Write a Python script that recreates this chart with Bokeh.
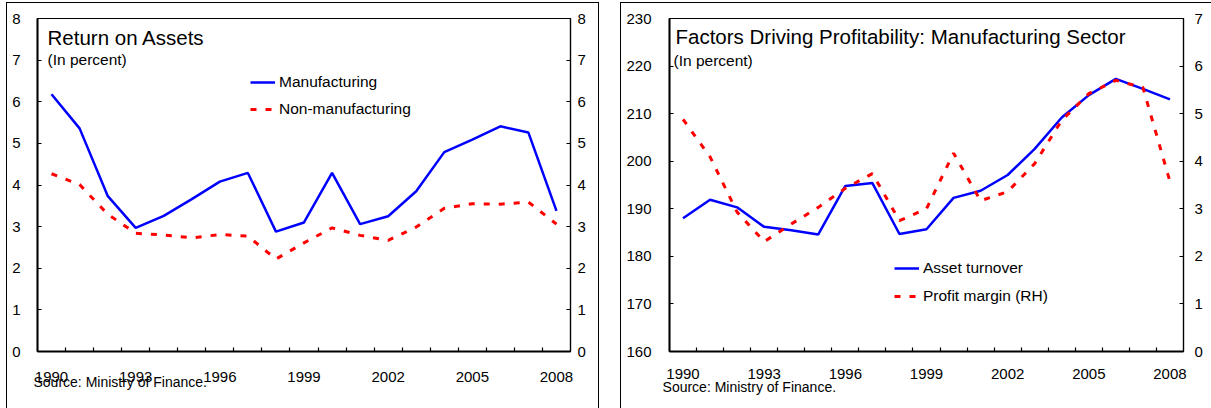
from bokeh.plotting import figure
from bokeh.models import (Range1d, LinearAxis, FixedTicker, Legend, LegendItem,
                          Label, Div)
from bokeh.layouts import row, column
from bokeh.embed import file_html
from bokeh.resources import INLINE

# ---------------- data ----------------
years = list(range(1990, 2009))
roa_manufacturing = [6.18, 5.36, 3.74, 2.97, 3.26, 3.66, 4.08, 4.29, 2.88, 3.10,
                     4.29, 3.06, 3.25, 3.85, 4.79, 5.09, 5.41, 5.26, 3.38]
roa_non_manufacturing = [4.27, 4.01, 3.30, 2.84, 2.80, 2.73, 2.81, 2.77, 2.22, 2.61,
                         2.97, 2.79, 2.67, 2.99, 3.44, 3.55, 3.54, 3.59, 3.06]
asset_turnover = [188.0, 191.9, 190.3, 186.2, 185.5, 184.6, 194.8, 195.4, 184.7, 185.7,
                  192.3, 193.8, 197.1, 202.6, 209.2, 213.9, 217.3, 215.2, 213.0]
profit_margin = [4.88, 4.09, 2.93, 2.31, 2.68, 3.03, 3.43, 3.74, 2.75, 3.00,
                 4.17, 3.17, 3.36, 3.95, 4.86, 5.42, 5.70, 5.55, 3.57]
x_tick_labels = [1990, 1993, 1996, 1999, 2002, 2005, 2008]
roa_ticks = [0, 1, 2, 3, 4, 5, 6, 7, 8]
turnover_ticks = [160, 170, 180, 190, 200, 210, 220, 230]
margin_ticks = [0, 1, 2, 3, 4, 5, 6, 7]
source_text = "Source: Ministry of Finance."

FONT = "Liberation Sans"
BLUE = "#0000FF"
RED = "#FF0000"
SOURCE_ANCHOR = 1992.45  # horizontal anchor (x units) for the centred source note


def style_axis(ax, standoff, line_width):
    ax.major_label_text_font = FONT
    ax.major_label_text_font_size = "15px"
    ax.major_label_text_color = "black"
    ax.axis_line_color = "black"
    ax.axis_line_width = line_width
    ax.major_tick_in = 4
    ax.major_tick_out = 0
    ax.major_tick_line_color = "black"
    ax.major_tick_line_width = 1.2
    ax.minor_tick_line_color = None
    ax.major_label_standoff = standoff


def make_panel(width, height, borders, y_range, extra_range, left_ticks, right_ticks,
               x_standoff, src_standoff):
    p = figure(width=width, height=height, output_backend="svg", toolbar_location=None,
               x_range=Range1d(1989.5, 2008.5), y_range=y_range,
               min_border_left=borders[0], min_border_right=borders[1],
               min_border_top=borders[2], min_border_bottom=borders[3],
               background_fill_color="white", border_fill_color="white")
    p.xgrid.grid_line_color = None
    p.ygrid.grid_line_color = None
    p.outline_line_color = "black"
    p.outline_line_width = 1.2
    p.outline_line_alpha = 1.0

    xa = p.xaxis[0]
    xa.ticker = FixedTicker(ticks=x_tick_labels,
                            minor_ticks=[y + 0.5 for y in years[:-1]])
    xa.major_label_text_font = FONT
    xa.major_label_text_font_size = "15px"
    xa.major_label_text_color = "black"
    xa.axis_line_color = "black"
    xa.axis_line_width = 2
    xa.major_tick_line_color = None
    xa.minor_tick_line_color = "black"
    xa.minor_tick_line_width = 1.2
    xa.minor_tick_in = 4
    xa.minor_tick_out = 0
    xa.major_label_standoff = x_standoff

    # source note, drawn as the single label of a bare second x axis
    sa = LinearAxis(ticker=FixedTicker(ticks=[SOURCE_ANCHOR]),
                    major_label_overrides={SOURCE_ANCHOR: source_text})
    sa.axis_line_color = None
    sa.major_tick_line_color = None
    sa.minor_tick_line_color = None
    sa.major_tick_out = 0
    sa.major_tick_in = 0
    sa.major_label_text_font = FONT
    sa.major_label_text_font_size = "14px"
    sa.major_label_text_color = "black"
    sa.major_label_standoff = src_standoff
    p.add_layout(sa, "below")

    ya = p.yaxis[0]
    ya.ticker = FixedTicker(ticks=left_ticks)
    style_axis(ya, 17, 2)

    if extra_range is not None:
        p.extra_y_ranges = {"rh": extra_range}
        ra = LinearAxis(y_range_name="rh")
    else:
        ra = LinearAxis()
    ra.ticker = FixedTicker(ticks=right_ticks)
    p.add_layout(ra, "right")
    return p, ra


# ---------------- left panel ----------------
left, left_ra = make_panel(612, 408, (37, 42, 18, 53), Range1d(0, 8), None,
                           roa_ticks, roa_ticks, 14, -11)
style_axis(left_ra, 7, 1.2)

r1 = left.line(years, roa_manufacturing, line_color=BLUE, line_width=2.5)
r2 = left.line(years, roa_non_manufacturing, line_color=RED, line_width=3,
               line_dash="6 9")

leg1 = Legend(items=[LegendItem(label="Manufacturing", renderers=[r1]),
                     LegendItem(label="Non-manufacturing", renderers=[r2])],
              location=(213, 232), orientation="vertical",
              padding=0, margin=0, spacing=7, glyph_width=25, glyph_height=20,
              label_height=20, label_standoff=4,
              label_text_font=FONT, label_text_font_size="15.5px",
              label_text_color="black",
              border_line_color=None, background_fill_alpha=0)
left.add_layout(leg1, "center")

left.add_layout(Label(x=10, y=314, x_units="screen", y_units="screen",
                      text="Return on Assets", text_font=FONT,
                      text_font_size="20.5px", text_color="black",
                      text_baseline="alphabetic"))
left.add_layout(Label(x=10, y=292, x_units="screen", y_units="screen",
                      text="(In percent)", text_font=FONT,
                      text_font_size="15.5px", text_color="black",
                      text_baseline="alphabetic"))

# ---------------- right panel ----------------
right, right_ra = make_panel(599, 408, (57, 28, 18, 57), Range1d(160, 230),
                             Range1d(0, 7), turnover_ticks, margin_ticks, 11, -3)
right.yaxis[0].major_label_standoff = 18
style_axis(right_ra, 11, 1.2)

r3 = right.line(years, asset_turnover, line_color=BLUE, line_width=2.5)
r4 = right.line(years, profit_margin, line_color=RED, line_width=3,
                line_dash="6 9", y_range_name="rh")

leg2 = Legend(items=[LegendItem(label="Asset turnover", renderers=[r3]),
                     LegendItem(label="Profit margin (RH)", renderers=[r4])],
              location=(225, 45), orientation="vertical",
              padding=0, margin=0, spacing=8, glyph_width=25, glyph_height=20,
              label_height=20, label_standoff=4,
              label_text_font=FONT, label_text_font_size="15.5px",
              label_text_color="black",
              border_line_color=None, background_fill_alpha=0)
right.add_layout(leg2, "center")

right.add_layout(Label(x=6, y=315, x_units="screen", y_units="screen",
                       text="Factors Driving Profitability: Manufacturing Sector",
                       text_font=FONT, text_font_size="20.5px", text_color="black",
                       text_baseline="alphabetic"))
right.add_layout(Label(x=4, y=291, x_units="screen", y_units="screen",
                       text="(In percent)", text_font=FONT,
                       text_font_size="15.5px", text_color="black",
                       text_baseline="alphabetic"))

# outer panel frames (page decoration)
frames = Div(text=(
    '<div style="position:fixed;left:6px;top:2px;width:593px;height:420px;'
    'border:1px solid #000;border-bottom:none;pointer-events:none;z-index:50"></div>'
    '<div style="position:fixed;left:620px;top:2px;width:620px;height:420px;'
    'border:1px solid #000;border-bottom:none;pointer-events:none;z-index:50"></div>'),
    width=0, height=0)

layout = column(row(left, right), frames)
open("out.html", "w").write(file_html(layout, INLINE))
